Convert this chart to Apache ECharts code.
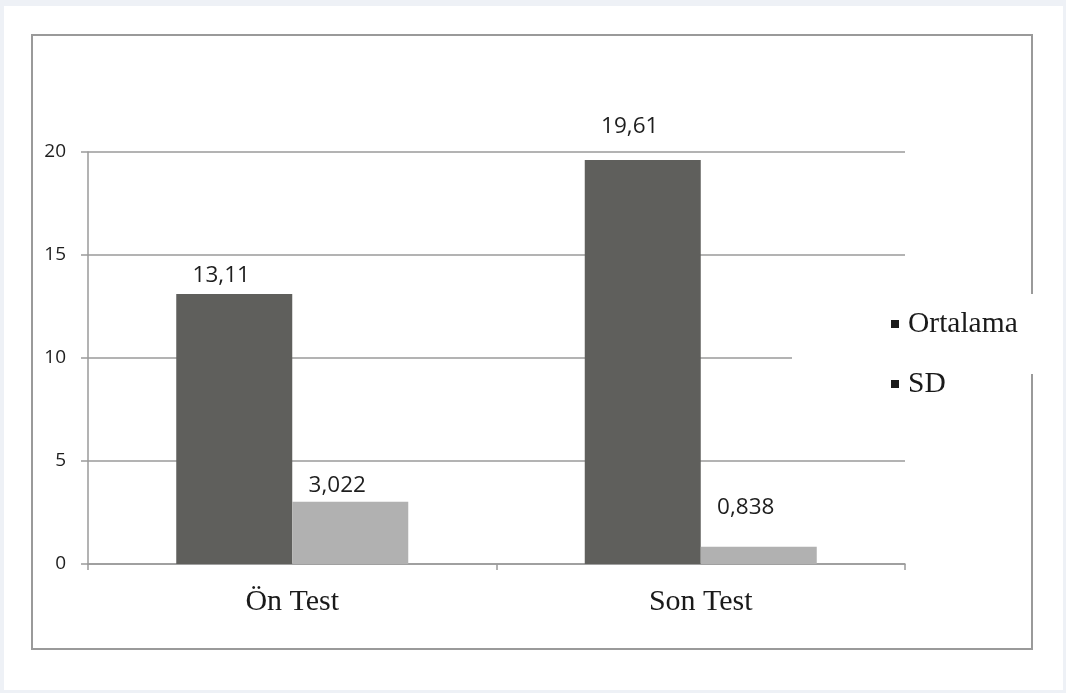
<!DOCTYPE html>
<html>
<head>
<meta charset="utf-8">
<script src="https://cdn.jsdelivr.net/npm/echarts@6/dist/echarts.min.js"></script>
<style>
  body { margin: 0; background: #eef1f6; }
  #frame { position: absolute; left: 4px; top: 6px; width: 1059px; height: 684px; background: #fff; }
  #box { position: absolute; left: 31px; top: 34px; width: 998px; height: 612px; border: 2px solid #9a9a9a; }
  #chart { position: absolute; left: 0; top: 0; width: 1066px; height: 693px; }
</style>
</head>
<body>
<div id="frame"></div>
<div id="box"></div>
<div id="chart"></div>
<script>
// veriler
var categories = ['Ön Test', 'Son Test']
var seriesNames = ['Ortalama', 'SD']
var ortalama = [13.11, 19.61]
var sd = [3.022, 0.838]
var yTicks = [0, 5, 10, 15, 20]

// etiket mesafeleri (resimdeki gibi)
var ortalamaLabelGap = [7, 22]
var sdLabelGap = [5, 28]

var chart = echarts.init(document.getElementById('chart'))
chart.setOption(getOptions())

function fmt (v) {
  return String(v).replace('.', ',')
}

function withGap (values, gaps) {
  return values.map(function (v, i) {
    return { value: v, label: { distance: gaps[i] } }
  })
}

function barSeries (name, data, color) {
  return {
    name: name,
    type: 'bar',
    barWidth: 116,
    barGap: '0%',
    itemStyle: { color: color },
    label: {
      show: true,
      position: 'top',
      offset: [-13, 0],
      fontFamily: 'Open Sans',
      fontSize: 22.5,
      color: '#1e1e1e',
      formatter: function (p) { return fmt(p.value) }
    },
    data: data
  }
}

function getOptions () {
  return {
    animation: false,
    grid: {
      left: 88,
      right: 161,
      top: 152,
      bottom: 129
    },
    legend: {
      orient: 'vertical',
      left: 891,
      top: 309,
      padding: 0,
      z: 10,
      icon: 'rect',
      itemWidth: 8,
      itemHeight: 8,
      itemGap: 30,
      textStyle: {
        fontFamily: 'Liberation Serif',
        fontSize: 29.5,
        color: '#1a1a1a',
        padding: [0, 0, 0, 4]
      },
      data: seriesNames.map(function (n) {
        return { name: n, itemStyle: { color: '#1a1a1a' } }
      })
    },
    graphic: [{
      type: 'rect',
      z: 5,
      shape: { x: 792, y: 294, width: 250, height: 80 },
      style: { fill: '#ffffff' }
    }],
    xAxis: {
      type: 'category',
      data: categories,
      axisLine: { lineStyle: { color: '#9a9a9a', width: 1.5 } },
      axisTick: { show: true, length: 6, lineStyle: { color: '#9a9a9a', width: 1.5 } },
      axisLabel: {
        margin: 23,
        fontFamily: 'Liberation Serif',
        fontSize: 30,
        color: '#1a1a1a'
      }
    },
    yAxis: {
      type: 'value',
      min: yTicks[0],
      max: yTicks[yTicks.length - 1],
      interval: 5,
      axisLine: { show: true, lineStyle: { color: '#9a9a9a', width: 1.5 } },
      axisTick: { show: true, length: 7, lineStyle: { color: '#9a9a9a', width: 1.5 } },
      splitLine: { lineStyle: { color: '#9a9a9a', width: 1.5 } },
      axisLabel: {
        margin: 22,
        fontFamily: 'Open Sans',
        fontSize: 19,
        color: '#1e1e1e'
      }
    },
    series: [
      barSeries(seriesNames[0], withGap(ortalama, ortalamaLabelGap), '#5f5f5c'),
      barSeries(seriesNames[1], withGap(sd, sdLabelGap), '#b1b1b1')
    ]
  }
}
</script>
</body>
</html>
